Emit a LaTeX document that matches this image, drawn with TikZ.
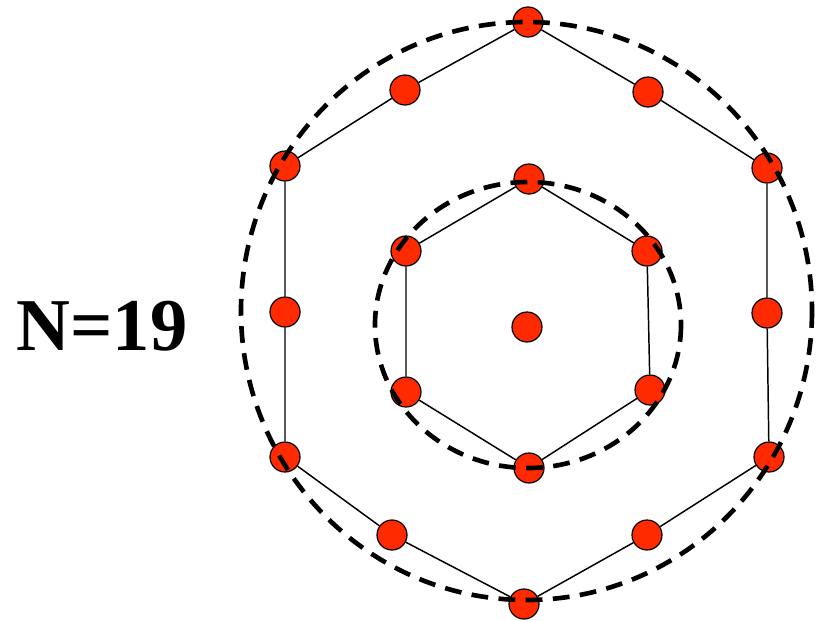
\documentclass[tikz,border=0pt]{standalone}
\usepackage{fontspec}
\setmainfont{Liberation Serif}
\usetikzlibrary{positioning}
\definecolor{shelldot}{HTML}{FF2A00}
\definecolor{shellink}{HTML}{000000}
\tikzset{
  atom/.style={
    circle,
    draw=shellink,
    fill=shelldot,
    line width=0.85pt,
    inner sep=0pt,
    minimum size=0.75cm
  },
  bond/.style={
    draw=shellink,
    line width=1.05pt
  },
  shellring/.style={
    draw=shellink,
    line width=3.3pt,
    dash pattern=on 0.42cm off 0.26cm
  },
  countlabel/.style={
    font=\fontsize{53}{58}\selectfont\bfseries,
    text=shellink
  }
}

\begin{document}
\begin{tikzpicture}[x=0.025cm,y=-0.025cm]
\useasboundingbox (0,0) rectangle (817,620);

\node[countlabel] (label) at (102,326) {N=19};

% centre and first shell
\node[atom] (c) at (527,327) {};
\node[atom] (i1) at (529,179) {};
\node[atom] (i2) at (647,251) {};
\node[atom] (i3) at (650,390) {};
\node[atom] (i4) at (529,468) {};
\node[atom] (i5) at (406,392) {};
\node[atom] (i6) at (406,251) {};

% second shell
\node[atom] (o1) at (528,22) {};
\node[atom] (o2) at (648,92) {};
\node[atom] (o3) at (767,168) {};
\node[atom] (o4) at (767,313) {};
\node[atom] (o5) at (769,457) {};
\node[atom] (o6) at (647,535) {};
\node[atom] (o7) at (524,604) {};
\node[atom] (o8) at (392,535) {};
\node[atom] (o9) at (285,457) {};
\node[atom] (o10) at (285,312) {};
\node[atom] (o11) at (285,166) {};
\node[atom] (o12) at (405,90) {};

\draw[bond] (i1) -- (i2) -- (i3) -- (i4) -- (i5) -- (i6) -- (i1);
\draw[bond] (o1) -- (o2) -- (o3) -- (o4) -- (o5) -- (o6) -- (o7)
  -- (o8) -- (o9) -- (o10) -- (o11) -- (o12) -- (o1);

% dashed shells, drawn over the dots
\draw[shellring] (528,325) ellipse [x radius=153, y radius=143];
\draw[shellring] (526.5,311) ellipse [x radius=285.5, y radius=289];
\end{tikzpicture}
\end{document}
